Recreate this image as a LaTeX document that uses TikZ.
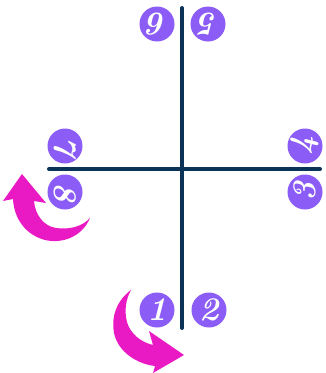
\documentclass[tikz,border=0pt]{standalone}
\usepackage{xcolor}
\definecolor{navy}{HTML}{0B3357}
\definecolor{violet}{HTML}{8B5CF6}
\definecolor{magenta}{HTML}{E91AC3}
\begin{document}
\begin{tikzpicture}[x=1pt,y=-1pt,
  num/.style={circle,fill=violet,text=white,minimum size=35pt,inner sep=0pt,
    font=\fontsize{33}{33}\selectfont\bfseries\itshape},
  axis/.style={draw=navy,line width=4pt,line cap=round},
  swoosh/.style={fill=magenta,draw=none}]
\useasboundingbox (0,0) rectangle (325,373);
% axes
\coordinate (top) at (182,8);
\coordinate (bot) at (182,328);
\coordinate (lft) at (49,169);
\coordinate (rgt) at (320,169);
\draw[axis] (top) -- (bot);
\draw[axis] (lft) -- (rgt);
% numbers
\node[num] (n1) at (157,310) {1};
\node[num] (n2) at (209,310) {2};
\node[num,rotate=90] (n3) at (305,192) {3};
\node[num,rotate=90] (n4) at (305,146) {4};
\node[num,rotate=180] (n5) at (208,24) {5};
\node[num,rotate=180] (n6) at (157,24) {6};
\node[num,rotate=270] (n7) at (65,146) {7};
\node[num,rotate=270] (n8) at (65,192) {8};
% bottom swoosh arrow
\fill[swoosh] (131,290)
  .. controls (116,301) and (111,318) .. (114,333)
  .. controls (118,352) and (137,364) .. (155,366)
  -- (153,373) -- (184,355) -- (149,331) -- (153,345)
  .. controls (140,342) and (130,333) .. (127,322)
  .. controls (124,310) and (126,299) .. (131,290) -- cycle;
% left swoosh arrow
\fill[swoosh] (90,218)
  .. controls (82,237) and (62,244) .. (45,240)
  .. controls (26,235) and (14,219) .. (13,199)
  -- (3,201) -- (22,174) -- (46,203) -- (34,201)
  .. controls (35,214) and (43,226) .. (56,228)
  .. controls (70,230) and (83,226) .. (90,218) -- cycle;
\end{tikzpicture}
\end{document}
